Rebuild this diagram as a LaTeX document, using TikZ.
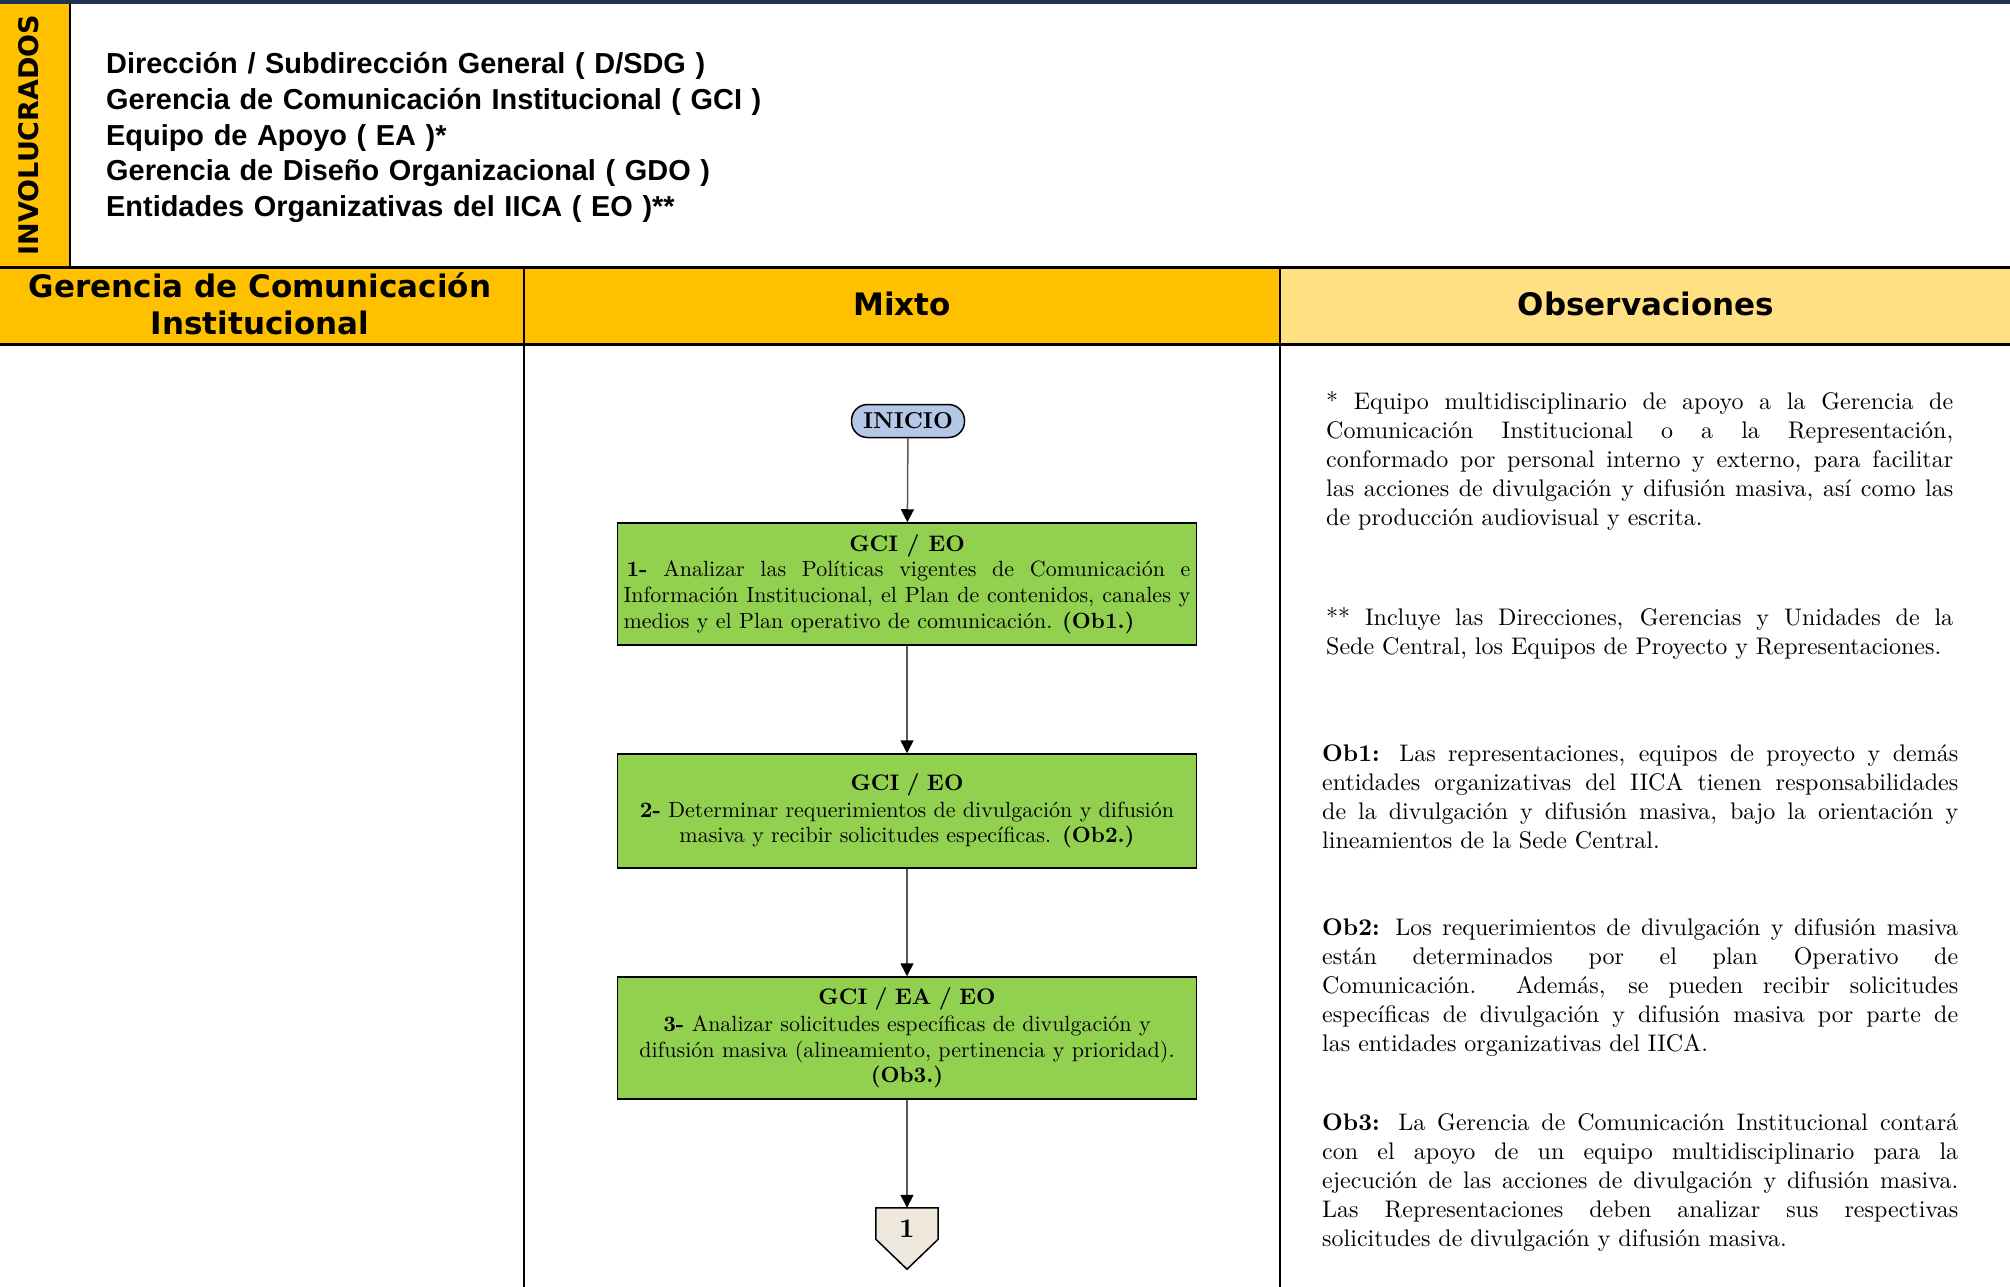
\documentclass[tikz,border=0pt]{standalone}
\usepackage{fontspec}
\setmainfont{lmroman10-regular.otf}[BoldFont=lmroman10-bold.otf,ItalicFont=lmroman10-italic.otf]
\newfontfamily\hdfont{DejaVu Sans}
\newfontfamily\arfont{Liberation Sans}
\usetikzlibrary{arrows.meta}
\definecolor{oro}{RGB}{255,192,0}
\definecolor{amarillo}{RGB}{255,224,130}
\definecolor{verde}{RGB}{146,208,80}
\definecolor{celeste}{RGB}{180,199,231}
\definecolor{crema}{RGB}{238,232,220}
\definecolor{marino}{RGB}{31,51,80}
\newcommand\titulo{\bfseries\fontsize{22.5}{22.5}\selectfont}
\tikzset{
    HD/.style ={font=\hdfont\bfseries\fontsize{31}{34}\selectfont, align=center, inner sep=0pt},
    ST/.style ={rectangle, rounded corners=16pt, minimum width=113pt, minimum height=33pt, inner sep=0pt, draw, line width=1.5pt, fill=celeste, font=\bfseries\fontsize{23}{23}\selectfont},
    RB/.style ={rectangle, minimum width=579pt, text width=567pt, inner xsep=6pt, draw, line width=1.5pt, fill=verde, font=\fontsize{22}{25.6}\selectfont},
    OC/.style ={rectangle, minimum width=62pt, minimum height=31pt, inner sep=0pt, text height=27pt, text depth=0pt, font=\bfseries\fontsize{27}{27}\selectfont},
    TX/.style ={anchor=base west, inner sep=0pt, align=justify, font=\fontsize{24}{29}\selectfont},
    AR/.style ={line width=1.5pt, draw=black!65}}

\begin{document}
\begin{tikzpicture}[x=1pt,y=-1pt,>={Triangle[length=13pt,width=13pt,color=black]}]
    \useasboundingbox (0,0) rectangle (2010,1287);
    % franjas de fondo
    \fill[marino] (0,0) rectangle (2010,4);
    \fill[oro] (0,4) rectangle (70,267);
    \fill[oro] (0,267) rectangle (1280,344);
    \fill[amarillo] (1280,267) rectangle (2010,344);
    \draw[line width=2pt] (70,4) -- (70,267);
    \draw[line width=2pt] (524,267) -- (524,1287);
    \draw[line width=2pt] (1280,267) -- (1280,1287);
    \draw[line width=3pt] (0,267) -- (2010,267);
    \draw[line width=3pt] (0,344) -- (2010,344);
    % encabezados
    \node(inv) [HD, font=\hdfont\bfseries\fontsize{27}{27}\selectfont, rotate=90] at (29,135) {INVOLUCRADOS};
    \node(lista) [anchor=base west, inner sep=0pt, text width=800pt, align=left,
        font=\arfont\bfseries\fontsize{28.9}{35.6}\selectfont] at (106,74)
        {Dirección / Subdirección General ( D/SDG )\\
         Gerencia de Comunicación Institucional ( GCI )\\
         Equipo de Apoyo ( EA )*\\
         Gerencia de Diseño Organizacional ( GDO )\\
         Entidades Organizativas del IICA ( EO )**};
    \node(h1) [HD, font=\hdfont\bfseries\fontsize{31}{37}\selectfont] at (260,304) {Gerencia de Comunicación\\Institucional};
    \node(h2) [HD] at (902,304) {Mixto};
    \node(h3) [HD] at (1646,304) {Observaciones};
    % flujo
    \node(ini) [ST] at (908,421) {INICIO};
    \node(b1) [RB, minimum height=122pt, align=justify] at (907,584)
        {\centerline{\titulo GCI / EO}
         \hspace*{3pt}\textbf{1-} Analizar las Políticas vigentes de Comunicación e\linebreak
         Información Institucional, el Plan de contenidos, canales y\linebreak
         medios y el Plan operativo de comunicación. \textbf{(Ob1.)}}
        edge [<-,AR] (ini);
    \node(b2) [RB, minimum height=114pt, align=center] at (907,811)
        {{\titulo GCI / EO}\\[1pt]
         \textbf{2-} Determinar requerimientos de divulgación y difusión\\
         masiva y recibir solicitudes específicas. \textbf{(Ob2.)}}
        edge [<-,AR] (b1);
    \node(b3) [RB, minimum height=122pt, align=center] at (907,1038)
        {{\titulo GCI / EA / EO}\\[1pt]
         \textbf{3-} Analizar solicitudes específicas de divulgación y\\
         difusión masiva (alineamiento, pertinencia y prioridad).\\
         \textbf{(Ob3.)}}
        edge [<-,AR] (b2);
    \node(c1) [OC] at (907,1223.5) {};
    \draw[line width=1.5pt, fill=crema] (c1.north west) -- (c1.north east) -- (c1.south east)
        -- ([yshift=-30pt]c1.south) -- (c1.south west) -- cycle;
    \node(c1t) [OC] at (c1) {1};
    \draw [->,AR] (b3) -- (c1);
    % observaciones
    \node(o1) [TX, text width=627pt] at (1326,409)
        {* Equipo multidisciplinario de apoyo a la Gerencia de\linebreak
         Comunicación Institucional o a la Representación,\linebreak
         conformado por personal interno y externo, para facilitar\linebreak
         las acciones de divulgación y difusión masiva, así como las\linebreak
         de producción audiovisual y escrita.};
    \node(o2) [TX, text width=627pt] at (1326,625)
        {** Incluye las Direcciones, Gerencias y Unidades de la\linebreak
         Sede Central, los Equipos de Proyecto y Representaciones.};
    \node(ob1) [TX, text width=636pt] at (1322,761)
        {\textbf{Ob1:} Las representaciones, equipos de proyecto y demás\linebreak
         entidades organizativas del IICA tienen responsabilidades\linebreak
         de la divulgación y difusión masiva, bajo la orientación y\linebreak
         lineamientos de la Sede Central.};
    \node(ob2) [TX, text width=636pt] at (1322,935)
        {\textbf{Ob2:} Los requerimientos de divulgación y difusión masiva\linebreak
         están determinados por el plan Operativo de\linebreak
         Comunicación.\ \ Además, se pueden recibir solicitudes\linebreak
         específicas de divulgación y difusión masiva por parte de\linebreak
         las entidades organizativas del IICA.};
    \node(ob3) [TX, text width=636pt] at (1322,1130)
        {\textbf{Ob3:} La Gerencia de Comunicación Institucional contará\linebreak
         con el apoyo de un equipo multidisciplinario para la\linebreak
         ejecución de las acciones de divulgación y difusión masiva.\linebreak
         Las Representaciones deben analizar sus respectivas\linebreak
         solicitudes de divulgación y difusión masiva.};
\end{tikzpicture}
\end{document}
